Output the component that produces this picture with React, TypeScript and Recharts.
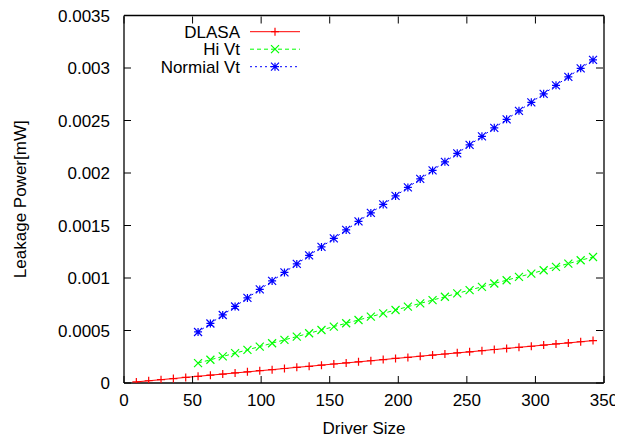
import { LineChart, Line, XAxis, YAxis, Legend } from "recharts";

const dlasaX = [9, 18, 27, 36, 45, 54, 63, 72, 81, 90, 99, 108, 117, 126, 135, 144, 153, 162, 171, 180, 189, 198, 207, 216, 225, 234, 243, 252, 261, 270, 279, 288, 297, 306, 315, 324, 333, 342];
const dlasaY = [0.0000106, 0.0000212, 0.0000319, 0.0000425, 0.0000531, 0.0000637, 0.0000743, 0.000085, 0.0000956, 0.000106, 0.000117, 0.000127, 0.000138, 0.000149, 0.000159, 0.00017, 0.000181, 0.000191, 0.000202, 0.000212, 0.000223, 0.000234, 0.000244, 0.000255, 0.000266, 0.000276, 0.000287, 0.000297, 0.000308, 0.000319, 0.000329, 0.00034, 0.00035, 0.000361, 0.000372, 0.000382, 0.000393, 0.000404];

const vtX = [54, 63, 72, 81, 90, 99, 108, 117, 126, 135, 144, 153, 162, 171, 180, 189, 198, 207, 216, 225, 234, 243, 252, 261, 270, 279, 288, 297, 306, 315, 324, 333, 342];
const hiVtY = [0.00019, 0.000221, 0.000253, 0.000284, 0.000316, 0.000347, 0.000379, 0.000411, 0.000442, 0.000474, 0.000505, 0.000537, 0.000569, 0.0006, 0.000632, 0.000663, 0.000695, 0.000727, 0.000758, 0.00079, 0.000821, 0.000853, 0.000885, 0.000916, 0.000948, 0.000979, 0.001011, 0.001042, 0.001074, 0.001106, 0.001137, 0.001169, 0.0012];
const normalVtY = [0.000486, 0.000567, 0.000648, 0.000729, 0.00081, 0.000891, 0.000972, 0.001053, 0.001134, 0.001215, 0.001296, 0.001377, 0.001458, 0.001539, 0.00162, 0.001701, 0.001782, 0.001863, 0.001944, 0.002025, 0.002106, 0.002187, 0.002268, 0.002349, 0.00243, 0.002511, 0.002592, 0.002673, 0.002754, 0.002835, 0.002916, 0.002997, 0.003078];

const xTicks = [0, 50, 100, 150, 200, 250, 300, 350];
const yTicks = [0, 0.0005, 0.001, 0.0015, 0.002, 0.0025, 0.003, 0.0035];
const yTickLabels = ["0", "0.0005", "0.001", "0.0015", "0.002", "0.0025", "0.003", "0.0035"];

const dlasaData = dlasaX.map((x, i) => ({ x, y: dlasaY[i] }));
const hiVtData = vtX.map((x, i) => ({ x, y: hiVtY[i] }));
const normalVtData = vtX.map((x, i) => ({ x, y: normalVtY[i] }));

const FONT = "'Liberation Sans', Arial, Helvetica, sans-serif";
const FS = 17;
const TICK = 7;

const markerPath = (kind: string, cx: number, cy: number, r = 4) => {
  const plus = `M${cx - r},${cy}H${cx + r}M${cx},${cy - r}V${cy + r}`;
  const cross = `M${cx - r},${cy - r}L${cx + r},${cy + r}M${cx - r},${cy + r}L${cx + r},${cy - r}`;
  if (kind === "plus") return plus;
  if (kind === "cross") return cross;
  return plus + cross;
};

const makeDot = (kind: string, color: string) => (props: any) => {
  const { cx, cy, index } = props;
  if (cx == null || cy == null) return <g key={`${kind}-${index}`} />;
  return <path key={`${kind}-${index}`} d={markerPath(kind, cx, cy)} stroke={color} strokeWidth={1.2} fill="none" />;
};

const BottomTick = (props: any) => {
  const { x, y, payload } = props;
  const axisY = y - 10;
  return (
    <g>
      <line x1={x} y1={axisY} x2={x} y2={axisY - TICK} stroke="#000" strokeWidth={1} />
      <text x={x} y={y} dy="0.75em" textAnchor="middle" fontFamily={FONT} fontSize={FS} fill="#000">
        {payload.value}
      </text>
    </g>
  );
};

const TopTick = (props: any) => {
  const { x, y } = props;
  const axisY = y + 1;
  return <line x1={x} y1={axisY} x2={x} y2={axisY + TICK} stroke="#000" strokeWidth={1} />;
};

const LeftTick = (props: any) => {
  const { x, y, index } = props;
  const axisX = x + 14;
  return (
    <g>
      <line x1={axisX} y1={y} x2={axisX + TICK} y2={y} stroke="#000" strokeWidth={1} />
      <text x={x} y={y} dy="0.36em" textAnchor="end" fontFamily={FONT} fontSize={FS} fill="#000">
        {yTickLabels[index]}
      </text>
    </g>
  );
};

const RightTick = (props: any) => {
  const { x, y } = props;
  const axisX = x - 1;
  return <line x1={axisX} y1={y} x2={axisX - TICK} y2={y} stroke="#000" strokeWidth={1} />;
};

const legendItems = [
  { name: "DLASA", color: "#ff0000", dash: undefined, kind: "plus" },
  { name: "Hi Vt", color: "#00ff00", dash: "4 3", kind: "cross" },
  { name: "Normial Vt", color: "#0000ff", dash: "2 3", kind: "star" },
];

const LegendBox = () => (
  <svg width={170} height={56}>
    {legendItems.map((it, i) => {
      const y = 9.7 + i * 17.5;
      return (
        <g key={it.name}>
          <text x={92} y={y} dy="0.36em" textAnchor="end" fontFamily={FONT} fontSize={FS} fill="#000">
            {it.name}
          </text>
          <line x1={102} y1={y} x2={152} y2={y} stroke={it.color} strokeWidth={1} strokeDasharray={it.dash} />
          <path d={markerPath(it.kind, 127, y)} stroke={it.color} strokeWidth={1.2} fill="none" />
        </g>
      );
    })}
  </svg>
);

const App = () => {
  return (
    <LineChart width={615} height={430} margin={{ top: 6.5, right: 18, bottom: 0, left: 0 }}>
      <XAxis
        dataKey="x"
        type="number"
        domain={[0, 350]}
        ticks={xTicks}
        interval={0}
        height={55}
        tickSize={0}
        tickMargin={10}
        tick={<BottomTick />}
        axisLine={{ stroke: "#000", strokeWidth: 1.3 }}
        allowDataOverflow
        label={({ viewBox }: any) => (
          <text
            x={viewBox.x + viewBox.width / 2}
            y={viewBox.y + 45}
            textAnchor="middle"
            dominantBaseline="central"
            fontFamily={FONT}
            fontSize={FS}
            fill="#000"
          >
            Driver Size
          </text>
        )}
      />
      <XAxis
        xAxisId="top"
        orientation="top"
        dataKey="x"
        type="number"
        domain={[0, 350]}
        ticks={xTicks}
        interval={0}
        height={1}
        tickSize={0}
        tickMargin={0}
        tick={<TopTick />}
        axisLine={{ stroke: "#000", strokeWidth: 1.3 }}
        allowDataOverflow
      />
      <YAxis
        type="number"
        domain={[0, 0.0035]}
        ticks={yTicks}
        interval={0}
        width={116}
        tickSize={0}
        tickMargin={14}
        tick={<LeftTick />}
        axisLine={{ stroke: "#000", strokeWidth: 1.3 }}
        allowDataOverflow
        label={({ viewBox }: any) => (
          <text
            x={12}
            y={viewBox.y + viewBox.height / 2}
            transform={`rotate(-90, 12, ${viewBox.y + viewBox.height / 2})`}
            textAnchor="middle"
            dominantBaseline="central"
            fontFamily={FONT}
            fontSize={FS}
            fill="#000"
          >
            Leakage Power[mW]
          </text>
        )}
      />
      <YAxis
        yAxisId="right"
        orientation="right"
        type="number"
        domain={[0, 0.0035]}
        ticks={yTicks}
        interval={0}
        width={1}
        tickSize={0}
        tickMargin={0}
        tick={<RightTick />}
        axisLine={{ stroke: "#000", strokeWidth: 1.3 }}
        allowDataOverflow
      />
      <Legend
        layout="vertical"
        align="center"
        verticalAlign="middle"
        wrapperStyle={{ top: 14, left: 140, width: 170, height: 56 }}
        content={() => <LegendBox />}
      />
      <Line
        data={dlasaData}
        dataKey="y"
        name="DLASA"
        stroke="#ff0000"
        strokeWidth={1}
        dot={makeDot("plus", "#ff0000")}
        activeDot={false}
        isAnimationActive={false}
      />
      <Line
        data={hiVtData}
        dataKey="y"
        name="Hi Vt"
        stroke="#00ff00"
        strokeWidth={1}
        strokeDasharray="4 3"
        dot={makeDot("cross", "#00ff00")}
        activeDot={false}
        isAnimationActive={false}
      />
      <Line
        data={normalVtData}
        xAxisId="top"
        yAxisId="right"
        dataKey="y"
        name="Normial Vt"
        stroke="#0000ff"
        strokeWidth={1}
        strokeDasharray="2 3"
        dot={makeDot("star", "#0000ff")}
        activeDot={false}
        isAnimationActive={false}
      />
    </LineChart>
  );
};

export default App;
